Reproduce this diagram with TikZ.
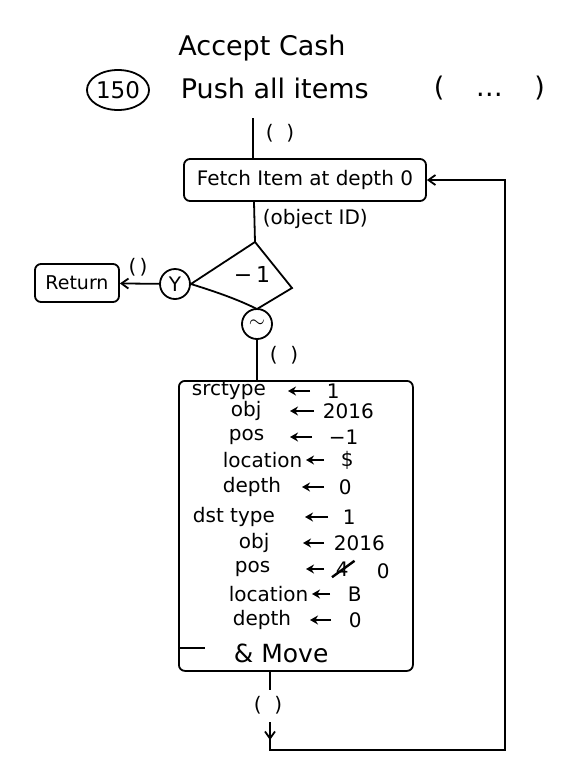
\documentclass[tikz,border=0pt]{standalone}
\usepackage{fontspec}
\setmainfont{DejaVu Sans}
\usetikzlibrary{arrows.meta,shapes.geometric,calc}
\newcommand\myrow[8]{%
  \node[row] (#1a) at (#3,#2) {#4};
  \draw[tarr] (#6,#2) -- (#5,#2);
  \node[row] (#1c) at (#7,#2) {#8};}
\begin{document}
\begin{tikzpicture}[x=1pt,y=-1pt,line width=1.8pt,
  every node/.style={inner sep=0pt},
  box/.style={draw,rounded corners=6pt,line width=1.8pt},
  circ/.style={draw,ellipse,minimum width=30pt,minimum height=30pt,line width=1.8pt},
  lbl/.style={font=\fontsize{20}{22}\selectfont},
  row/.style={anchor=west,font=\fontsize{20}{22}\selectfont},
  tarr/.style={line width=2.2pt,-{Stealth[length=8pt,width=9pt]}},
  big text/.style={font=\fontsize{27}{29}\selectfont},
  arr/.style={-{Straight Barb[length=7pt,width=10pt]}}]
\useasboundingbox (0,0) rectangle (575,782);
% title
\node[big text] (title) at (262,48) {Accept Cash};
\node[draw,ellipse,minimum width=60pt,minimum height=40pt,line width=1.8pt,font=\fontsize{23}{25}\selectfont] (num) at (118,90) {150};
\node[anchor=west,big text] (push) at (180,88) {Push all items};
\node[anchor=west,big text] (dots) at (433,88) {(\quad\,\dots\quad\,)};
% fetch box
\node[box,minimum width=242pt,minimum height=42pt,font=\fontsize{20}{22}\selectfont] (fetch) at (305,180) {Fetch Item at depth 0};
\coordinate (top) at (253,118);
\draw (top) -- (top |- fetch.north);
\node[lbl] (l1) at (280,133) {(\ \ )};
% diamond
\coordinate (dt) at (255,242);
\coordinate (dr) at (292,288);
\coordinate (db) at (257,309);
\node[circ,lbl] (yes) at (175,284) {Y};
\node[circ,lbl] (no) at (257,324) {$\sim$};
\draw (dt) -- (dr) -- (db) .. controls (235,298) and (210,290) .. (yes.east) -- cycle;
\node[font=\fontsize{22}{24}\selectfont] (m1) at (252,274) {−\,1};
\draw (254,202) coordinate (fs) -- (dt);
\node[lbl,anchor=west] (l2) at (262,219) {(object ID)};
% return
\node[box,minimum width=84pt,minimum height=38pt,font=\fontsize{19}{21}\selectfont] (ret) at (77,283) {Return};
\draw[arr] (yes) -- (ret);
\node[lbl] (l3) at (138,267) {(\,)};
% big box
\node[box,minimum width=234pt,minimum height=290pt,anchor=north west] (big) at (178,380) {};
\draw (no) -- (no |- big.north);
\node[lbl] (l4) at (284,355) {(\ \ )};
\myrow{r1}{391}{191}{srctype}{288}{310}{326}{1}
\myrow{r2}{411}{230}{obj}{290}{314}{322}{2016}
\myrow{r3}{437}{228}{pos}{290}{312}{328}{−1}
\myrow{r4}{460}{222}{location}{306}{324}{340}{\$}
\myrow{r5}{487}{222}{depth}{302}{324}{338}{0}
\myrow{r6}{517}{192}{dst type}{305}{328}{342}{1}
\myrow{r7}{543}{238}{obj}{303}{324}{333}{2016}
\myrow{r8}{569}{234}{pos}{306}{324}{335}{4}
\node[row] (r8d) at (376,571) {0};
\draw[line width=2.4pt] ($(r8c.south west)+(-3,0)$) -- ($(r8c.north east)+(5,0)$);
\myrow{r9}{594}{228}{location}{312}{330}{347}{B}
\myrow{r10}{620}{232}{depth}{310}{331}{348}{0}
\draw (big.west |- 0,648) -- (205,648);
\node[anchor=west,font=\fontsize{25}{27}\selectfont] (mv) at (233,653) {\& Move};
% bottom loop
\coordinate (b1) at (270,690);
\draw (big.south -| b1) -- (b1);
\node[lbl] (l5) at (268,705) {(\ \ )};
\coordinate (b2) at (270,722);
\coordinate (b3) at (270,750);
\coordinate (b4) at (505,750);
\draw[arr] (b2) -- (270,740);
\draw (270,738) -- (b3) -- (b4) -- (b4 |- fetch.east) coordinate (b5) -- ++(-40,0) coordinate (b6);
\draw[arr] (b6) -- (fetch.east);
\end{tikzpicture}
\end{document}
